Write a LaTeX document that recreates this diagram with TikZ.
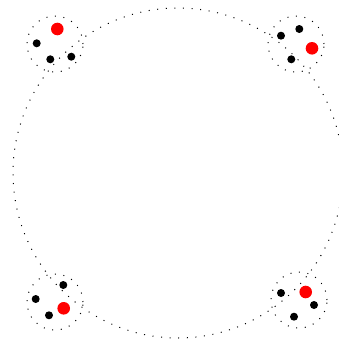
\documentclass[tikz,border=0pt]{standalone}
\begin{document}
\begin{tikzpicture}[x=1pt,y=-1pt,
  sparse/.style={line width=1pt,dash pattern=on 1pt off 7.6pt},
  cluster/.style={circle,draw,sparse,minimum size=56pt,inner sep=0pt},
  blackdot/.style={circle,fill=black,minimum size=8pt,inner sep=0pt},
  reddot/.style={circle,fill=red,minimum size=12.6pt,inner sep=0pt}]
\useasboundingbox (0,0) rectangle (339,343);
% large ring
\begin{scope}
\clip (0,0) rectangle (339,343);
\draw[sparse] (178,173) circle[radius=165];
\end{scope}
% four clusters on the ring
\node[cluster] (ca) at (55,44) {};
\node[cluster] (cb) at (296,44) {};
\node[cluster] (cc) at (55,302) {};
\node[cluster] (cd) at (299,300) {};
% cluster a
\node[reddot] (ar) at (57.3,29) {};
\node[blackdot] (a1) at (36.7,43.3) {};
\node[blackdot] (a2) at (50.3,59.3) {};
\node[blackdot] (a3) at (71.3,56.7) {};
% cluster b
\node[reddot] (br) at (312,48.3) {};
\node[blackdot] (b1) at (299.3,29) {};
\node[blackdot] (b2) at (281,35.7) {};
\node[blackdot] (b3) at (291.3,59.3) {};
% cluster c
\node[reddot] (cr) at (63.7,308.3) {};
\node[blackdot] (c1) at (63.3,285) {};
\node[blackdot] (c2) at (35.7,299) {};
\node[blackdot] (c3) at (49,315.3) {};
% cluster d
\node[reddot] (dr) at (305.7,292) {};
\node[blackdot] (d1) at (281,293) {};
\node[blackdot] (d2) at (314,305) {};
\node[blackdot] (d3) at (294,316.7) {};
\end{tikzpicture}
\end{document}
